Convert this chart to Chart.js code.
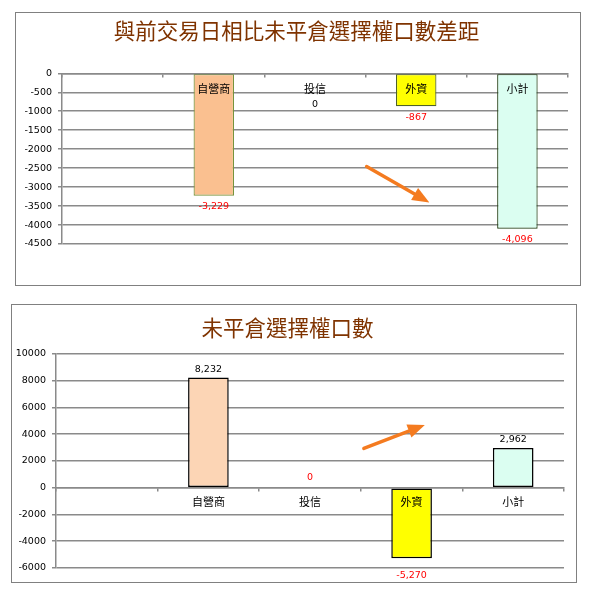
<!DOCTYPE html>
<html><head><meta charset="utf-8">
<script src="https://cdn.jsdelivr.net/npm/chart.js@4/dist/chart.umd.min.js"></script>
<style>
html,body{margin:0;padding:0;background:#fff;width:594px;height:600px;overflow:hidden}
.box{position:absolute;border:1px solid #808080;box-sizing:border-box}
canvas{position:absolute}
</style></head><body>
<div class="box" style="left:15px;top:12px;width:566px;height:274px"></div>
<canvas id="c1" width="566" height="274" style="left:15px;top:12px;width:566px;height:274px"></canvas>
<div class="box" style="left:11px;top:304px;width:566px;height:279px"></div>
<canvas id="c2" width="566" height="279" style="left:11px;top:304px;width:566px;height:279px"></canvas>
<script>
// ---- data ----
const categories = ['', '自營商', '投信', '外資', '小計'];
const diffValues = [null, -3229, 0, -867, -4096];
const oiValues = [null, 8232, 0, -5270, 2962];
const diffTitle = '與前交易日相比未平倉選擇權口數差距';
const oiTitle = '未平倉選擇權口數';
const diffTickRange = [-4500, 0];
const diffTickStep = 500;
const oiTickRange = [-6000, 10000];
const oiTickStep = 2000;
// arrow annotations in data coordinates: [xIndexStart, yStart, xIndexEnd, yEnd]
const diffArrow = [2.51, -2458, 3.13, -3405];
const oiArrow = [2.53, 2936, 3.13, 4682];

// ---- styles ----
const diffFill = ['rgba(0,0,0,0)', '#FAC090', 'rgba(0,0,0,0)', '#FFFF00', '#DBFEF1'];
const diffBorder = ['rgba(0,0,0,0)', '#77933C', 'rgba(0,0,0,0)', '#4F6228', '#1E3C10'];
const oiFill = ['rgba(0,0,0,0)', '#FCD5B5', 'rgba(0,0,0,0)', '#FFFF00', '#DBFEF1'];
const oiBorder = ['rgba(0,0,0,0)', '#000000', 'rgba(0,0,0,0)', '#000000', '#000000'];
const gridColor = '#8a8a8a';

const valueLabels = {
  id: 'valueLabels',
  afterDatasetsDraw(chart, args, opts) {
    const ctx = chart.ctx;
    const meta = chart.getDatasetMeta(0);
    const data = chart.data.datasets[0].data;
    const y0 = chart.scales.y.getPixelForValue(0);
    ctx.save();
    ctx.font = '9.5px "DejaVu Sans"';
    ctx.textAlign = 'center';
    ctx.textBaseline = 'middle';
    meta.data.forEach((el, i) => {
      const v = data[i];
      if (v === null || v === undefined) return;
      let y, color;
      if (v > 0) { y = el.y - opts.pos; color = '#000'; }
      else if (v < 0) { y = el.y + opts.neg; color = '#FF0000'; }
      else { y = y0 + opts.zero; color = opts.zeroColor; }
      ctx.fillStyle = color;
      ctx.fillText(v.toLocaleString('en-US'), el.x, y);
    });
    ctx.restore();
  }
};

const arrowPlugin = {
  id: 'arrowPlugin',
  afterDraw(chart, args, opts) {
    const a = opts.coords;
    if (!a) return;
    const xs = chart.scales.x, ys = chart.scales.y;
    const x1 = xs.getPixelForValue(a[0]), y1 = ys.getPixelForValue(a[1]);
    const x2 = xs.getPixelForValue(a[2]), y2 = ys.getPixelForValue(a[3]);
    const ctx = chart.ctx;
    const ang = Math.atan2(y2 - y1, x2 - x1);
    const hl = 17, hw = 7;
    const bx = x2 - hl * Math.cos(ang), by = y2 - hl * Math.sin(ang);
    ctx.save();
    ctx.strokeStyle = '#F47B20';
    ctx.fillStyle = '#F47B20';
    ctx.lineWidth = 3.5;
    ctx.lineCap = 'round';
    ctx.beginPath();
    ctx.moveTo(x1, y1);
    ctx.lineTo(bx + 4 * Math.cos(ang), by + 4 * Math.sin(ang));
    ctx.stroke();
    ctx.beginPath();
    ctx.moveTo(x2, y2);
    ctx.lineTo(bx + hw * Math.sin(ang), by - hw * Math.cos(ang));
    ctx.lineTo(bx - hw * Math.sin(ang), by + hw * Math.cos(ang));
    ctx.closePath();
    ctx.fill();
    ctx.restore();
  }
};

function makeChart(id, cfg) {
  return new Chart(document.getElementById(id), {
    type: 'bar',
    data: {
      labels: categories,
      datasets: [{
        data: cfg.values,
        backgroundColor: cfg.fill,
        borderColor: cfg.border,
        borderWidth: cfg.bw,
        borderSkipped: false,
        categoryPercentage: 1,
        barPercentage: 0.4
      }]
    },
    plugins: [valueLabels, arrowPlugin],
    options: {
      responsive: false,
      animation: false,
      devicePixelRatio: 1,
      layout: { padding: cfg.padding },
      plugins: {
        legend: { display: false },
        tooltip: { enabled: false },
        title: {
          display: true,
          text: cfg.title,
          color: '#7F3300',
          font: { family: 'Noto Sans CJK TC', size: 21.5, weight: 'normal', lineHeight: 1.2 },
          padding: cfg.titlePad
        },
        valueLabels: cfg.labels,
        arrowPlugin: { coords: cfg.arrow }
      },
      scales: {
        x: {
          type: 'category',
          position: { y: 0 },
          offset: true,
          grid: { drawOnChartArea: false, drawTicks: true, tickLength: 3, color: gridColor, lineWidth: 1.5, offset: true, z: 1 },
          border: { display: true, color: gridColor, width: 1.5, z: 1 },
          ticks: { z: 1, color: '#000', font: { family: 'Noto Sans CJK TC', size: 11 }, padding: cfg.xPad, maxRotation: 0, autoSkip: false }
        },
        y: {
          min: cfg.range[0],
          max: cfg.range[1],
          afterFit(s) { s.width = cfg.yWidth; },
          grid: { color: gridColor, lineWidth: 1.5, drawTicks: true, tickLength: 4 },
          border: { display: true, color: gridColor, width: 1.5 },
          ticks: {
            stepSize: cfg.step,
            autoSkip: false,
            padding: 6,
            color: '#000',
            font: { family: 'DejaVu Sans', size: 9.5 },
            callback: v => String(v)
          }
        }
      }
    }
  });
}

makeChart('c1', {
  values: diffValues, fill: diffFill, border: diffBorder, bw: 1.2,
  title: diffTitle, range: diffTickRange, step: diffTickStep,
  padding: { left: 10, right: 13, top: 0, bottom: 42 },
  titlePad: { top: 5.8, bottom: 29.7 },
  yWidth: 37, xPad: 6,
  labels: { pos: 8, neg: 11, zero: 31, zeroColor: '#000' },
  arrow: diffArrow
});

makeChart('c2', {
  values: oiValues, fill: oiFill, border: oiBorder, bw: 1.5,
  title: oiTitle, range: oiTickRange, step: oiTickStep,
  padding: { left: 0, right: 13, top: 0, bottom: 15 },
  titlePad: { top: 11, bottom: 13 },
  yWidth: 45, xPad: 5,
  labels: { pos: 8, neg: 17, zero: -10, zeroColor: '#FF0000' },
  arrow: oiArrow
});
</script>
</body></html>
